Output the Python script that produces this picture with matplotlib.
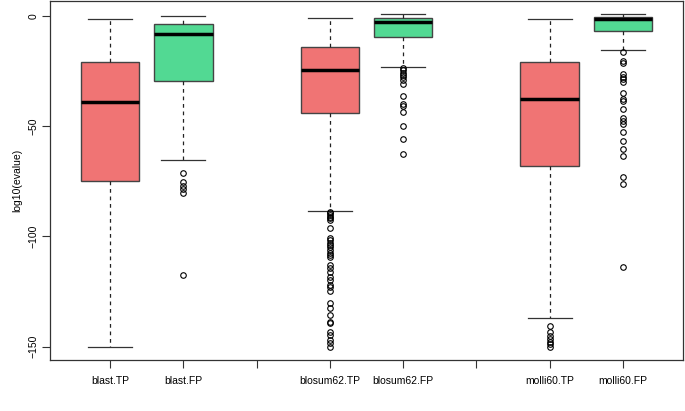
import matplotlib
matplotlib.use("Agg")
import matplotlib.pyplot as plt
import numpy as np

plt.rcParams['font.family'] = ['Liberation Sans', 'DejaVu Sans']

labels = ['blast.TP', 'blast.FP', 'blosum62.TP', 'blosum62.FP', 'molli60.TP', 'molli60.FP']
positions = [1, 2, 4, 5, 7, 8]

whishi = [-1.6, 0.0, -0.9, 0.6, -1.4, 0.6]
q3 = [-21.1, -3.8, -14.0, -0.9, -20.8, -0.7]
med = [-39.3, -8.3, -24.5, -2.9, -37.8, -1.5]
q1 = [-74.9, -29.5, -44.0, -9.8, -68.0, -6.8]
whislo = [-150.0, -65.3, -88.5, -23.1, -136.9, -15.5]

fliers_blast_tp = []
fliers_blast_fp = [-71.3, -75.2, -77.0, -78.6, -80.2, -117.5]
fliers_blosum_tp = [-88.8, -89.6, -90.3, -91.1, -91.8, -92.6, -96.4, -100.5, -101.7, -102.9,
                    -104.0, -105.0, -106.2, -107.4, -108.5, -109.5, -113.0, -114.5, -116.0,
                    -118.3, -119.8, -122.0, -123.1, -124.7, -130.1, -132.6, -135.7, -138.7,
                    -139.4, -143.2, -144.7, -147.0, -148.5, -150.0]
fliers_blosum_fp = [-23.6, -24.6, -25.8, -26.9, -27.9, -29.1, -30.7, -36.3, -40.2, -40.9,
                    -43.8, -49.9, -56.0, -62.8]
fliers_molli_tp = [-140.7, -143.2, -145.2, -146.7, -147.8, -148.8, -150.0]
fliers_molli_fp = [-16.6, -20.5, -21.6, -26.4, -27.6, -28.8, -30.1, -34.9, -37.9, -38.7,
                   -42.4, -46.5, -47.7, -49.1, -52.6, -56.7, -60.4, -63.6, -73.0, -76.4, -113.8]
fliers = [fliers_blast_tp, fliers_blast_fp, fliers_blosum_tp, fliers_blosum_fp,
          fliers_molli_tp, fliers_molli_fp]

box_colors = ['#F07474', '#52D993', '#F07474', '#52D993', '#F07474', '#52D993']

stats = []
for i in range(len(labels)):
    stats.append(dict(label=labels[i], med=med[i], q1=q1[i], q3=q3[i],
                      whislo=whislo[i], whishi=whishi[i], fliers=fliers[i]))

fig = plt.figure(figsize=(6.85, 4.11), dpi=100)
ax = fig.add_axes([50 / 685, 51 / 411, 633 / 685, 359 / 411])

bp = ax.bxp(stats, positions=positions, widths=0.8, patch_artist=True,
            boxprops=dict(edgecolor='#444444', linewidth=1.0),
            medianprops=dict(color='black', linewidth=2.5),
            whiskerprops=dict(color='#222222', linewidth=0.9, linestyle=(0, (3, 3))),
            capprops=dict(color='#333333', linewidth=0.9),
            flierprops=dict(marker='o', markersize=4, markerfacecolor='none',
                            markeredgecolor='black', markeredgewidth=0.8))
for patch, c in zip(bp['boxes'], box_colors):
    patch.set_facecolor(c)
for cap in bp['caps']:
    xd = cap.get_xdata()
    mid = (xd[0] + xd[1]) / 2
    cap.set_xdata([mid - 0.3, mid + 0.3])

ax.set_xlim(0.18, 8.82)
ax.set_ylim(-156, 6.7)
ticks = [1, 2, 3, 4, 5, 6, 7, 8]
tick_labels = ['blast.TP', 'blast.FP', '', 'blosum62.TP', 'blosum62.FP', '', 'molli60.TP', 'molli60.FP']
ax.set_xticks(ticks)
ax.set_xticklabels(tick_labels, fontsize=7.5)
ax.set_yticks([0, -50, -100, -150])
ax.set_yticklabels(['0', '\u221250', '\u2212100', '\u2212150'], fontsize=7.5, rotation=90, va='center')
ax.tick_params(axis='both', direction='out', length=5.5, width=0.8, color='#333333')
ax.tick_params(axis='x', pad=6)
ax.tick_params(axis='y', pad=3)
ax.set_ylabel('log10(evalue)', fontsize=7.5, labelpad=4)
for s in ax.spines.values():
    s.set_color('#333333')
    s.set_linewidth(0.9)

fig.savefig('out.png', dpi=100)
